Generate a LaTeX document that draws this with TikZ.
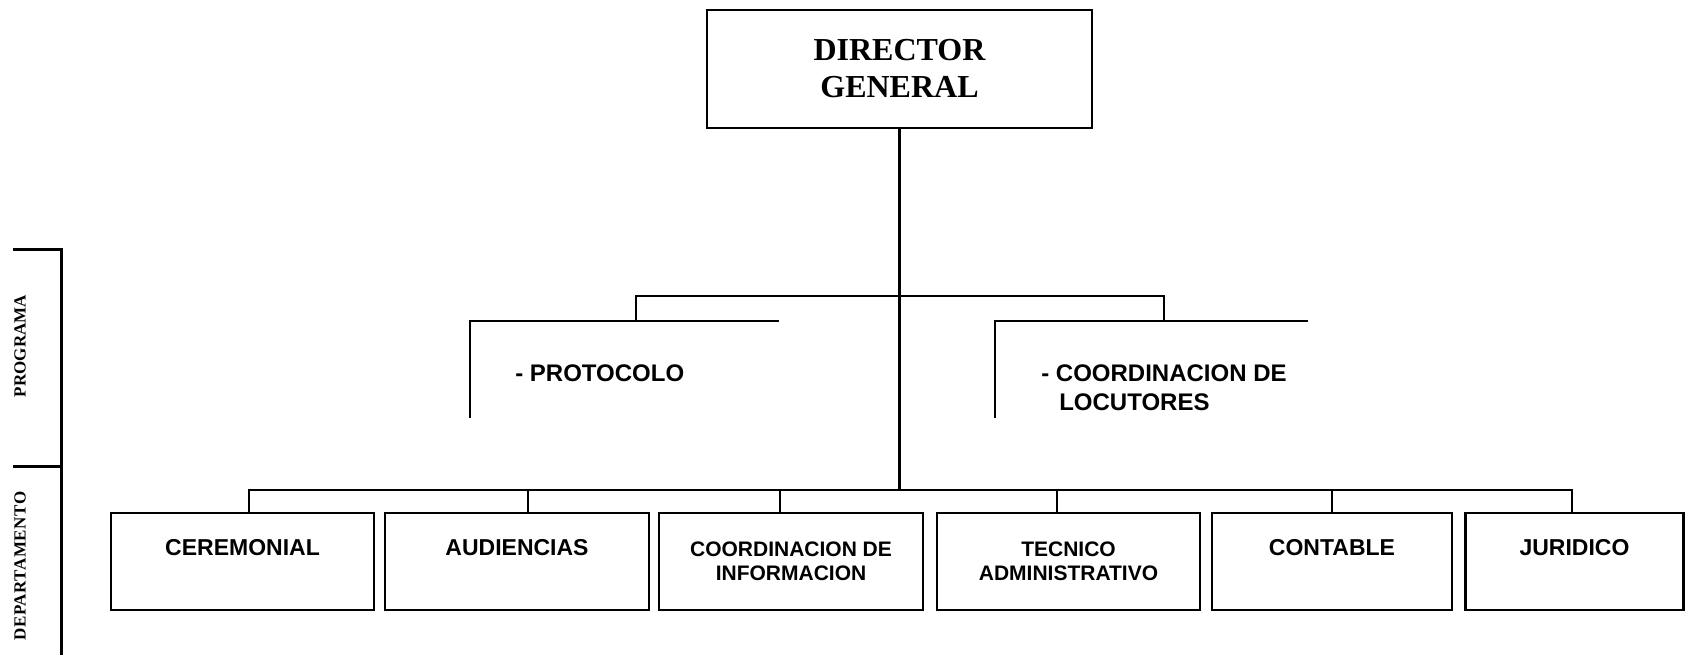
\documentclass[tikz,border=0pt]{standalone}
\usepackage{fontspec}
\setmainfont{Liberation Serif}
\setsansfont{Liberation Sans}
\usepackage{tikz}
\begin{document}
\begin{tikzpicture}[x=0.5pt,y=-0.5pt,line width=1.3pt,
  dept/.style={draw,line width=1.1pt,minimum width=131.5pt,minimum height=48.5pt,inner sep=0pt,align=center,
    font=\sffamily\bfseries\fontsize{10.5}{12}\selectfont},
  deptone/.style={dept,font=\sffamily\bfseries\fontsize{11.5}{14}\selectfont},
  prog/.style={anchor=west,align=left,inner sep=0pt,font=\sffamily\bfseries\fontsize{12}{14.5}\selectfont},
  side/.style={rotate=90,inner sep=0pt,font=\rmfamily\bfseries\fontsize{8.5}{10}\selectfont}]
\useasboundingbox (0,0) rectangle (1685,655);
\node [draw,line width=1.1pt,minimum width=192.5pt,minimum height=59pt,align=center,
  font=\rmfamily\bfseries\fontsize{16}{18.5}\selectfont] (dir) at (899.5,69) {DIRECTOR\\GENERAL};
\node [deptone] (cer) at (242.5,561.5) {CEREMONIAL\\~};
\node [deptone,minimum width=132pt] (aud) at (517,561.5) {AUDIENCIAS\\~};
\node [dept,minimum width=132pt] (inf) at (791,561.5) {COORDINACION DE\\INFORMACION};
\node [dept] (tec) at (1068.5,561.5) {TECNICO\\ADMINISTRATIVO};
\node [deptone,minimum width=120pt] (con) at (1332,561.5) {CONTABLE\\~};
\node [deptone,minimum width=109pt] (jur) at (1574.5,561.5) {JURIDICO\\~};
\coordinate (dbus) at (899.5,491);
\draw (dir.south) -- (dbus);
\draw ([xshift=3.25pt]cer.north) -- ++(0,-22) -| ([xshift=-1.25pt]jur.north);
\foreach \n/\s in {aud/5.5,inf/-5.5,tec/-5.75,con/0}
  \draw ([xshift=\s pt]\n.north) -- ++(0,-22);
\coordinate (pbus) at (899.5,296);
\coordinate (protc) at (470,321);
\coordinate (locc) at (995,321);
\draw (470,418) -- (protc) -- (779,321);
\draw (995,418) -- (locc) -- (1308,321);
\draw ([xshift=83pt]protc) |- (pbus) -| ([xshift=84.5pt]locc);
\node [prog] (prot) at (514,373) {- PROTOCOLO};
\node [prog] (loc) at (1040,388) {- COORDINACION DE\\\hspace*{0.75em}LOCUTORES};
\draw [line width=1.5pt] (13,249) -- (61,249) -- (61,655);
\draw [line width=1.5pt] (13,466) -- (61,466);
\node [side] (progl) at (20,346) {PROGRAMA};
\node [side] (depl) at (20,566) {\addfontfeature{LetterSpace=3}DEPARTAMENTO};
\end{tikzpicture}
\end{document}
